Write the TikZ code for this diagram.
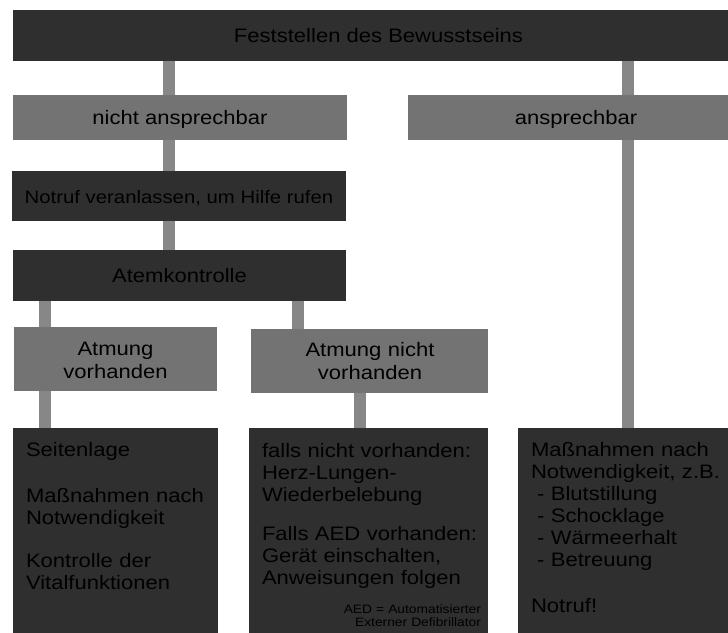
\documentclass[tikz,border=0pt]{standalone}
\usepackage{fontspec}
\setmainfont[FakeStretch=1.13]{Liberation Sans}
\definecolor{dk}{HTML}{2F2F2F}
\definecolor{md}{HTML}{737373}
\definecolor{cn}{HTML}{878787}
\begin{document}
\begin{tikzpicture}[x=1pt,y=-1pt,
  box/.style={inner sep=0pt, outer sep=0pt, text=black},
  darkbox/.style={box, fill=dk},
  graybox/.style={box, fill=md},
  one/.style={font=\fontsize{19.5}{22}\selectfont, text height=14pt, text depth=0pt},
  lbl/.style={inner sep=0pt, outer sep=0pt, text=black, font=\fontsize{19.5}{23}\selectfont, text width=230pt, align=center, anchor=base},
  btxt/.style={inner sep=0pt, outer sep=0pt, text=black, font=\fontsize{19.5}{22}\selectfont, text width=260pt, align=left, anchor=base west},
  conn/.style={draw=cn, line width=11.5pt}
]
\useasboundingbox[fill=white] (0,0) rectangle (728,632);

% boxes
\node[darkbox, one, minimum width=731pt, minimum height=51pt] (top) at (378.5,35.5) {Feststellen des Bewusstseins};
\node[graybox, one, minimum width=334pt, minimum height=45pt] (nicht) at (180,117.5) {nicht ansprechbar};
\node[graybox, one, minimum width=336pt, minimum height=45pt] (ansp) at (576,117.5) {ansprechbar};
\node[darkbox, one, font=\fontsize{18}{22}\selectfont, minimum width=334pt, minimum height=50pt] (notruf) at (179,196) {Notruf veranlassen, um Hilfe rufen};
\node[darkbox, one, minimum width=333pt, minimum height=51pt] (atem) at (179.5,275.5) {Atemkontrolle};
\node[graybox, minimum width=203pt, minimum height=64pt] (avh) at (115.5,359) {};
\node[graybox, minimum width=237pt, minimum height=64pt] (anv) at (369.5,361) {};
\node[darkbox, minimum width=205pt, minimum height=212pt] (b1) at (115.5,534) {};
\node[darkbox, minimum width=239pt, minimum height=212pt] (b2) at (368.5,534) {};
\node[darkbox, minimum width=226pt, minimum height=212pt] (b3) at (631,534) {};

% connector x positions
\coordinate (xa) at (169,0);
\coordinate (xb) at (628,0);
\coordinate (xc) at (45,0);
\coordinate (xd) at (298,0);
\coordinate (xe) at (360,0);

\draw[conn] (top.south -| xa) -- (nicht.north -| xa);
\draw[conn] (top.south -| xb) -- (ansp.north -| xb);
\draw[conn] (nicht.south -| xa) -- (notruf.north -| xa);
\draw[conn] (notruf.south -| xa) -- (atem.north -| xa);
\draw[conn] (atem.south -| xc) -- (avh.north -| xc);
\draw[conn] (atem.south -| xd) -- (anv.north -| xd);
\draw[conn] (avh.south -| xc) -- (b1.north -| xc);
\draw[conn] (anv.south -| xe) -- (b2.north -| xe);
\draw[conn] (ansp.south -| xb) -- (b3.north -| xb);

% two-line labels
\node[lbl] (avht) at (115.5,355) {Atmung\\vorhanden};
\node[lbl] (anvt) at (370,356) {Atmung nicht\\vorhanden};

% bottom texts
\node[btxt] (t1) at (26,456) {Seitenlage\\[24pt]Maßnahmen nach\\Notwendigkeit\\[21pt]Kontrolle der\\Vitalfunktionen};
\node[btxt] (t2) at (262,457) {falls nicht vorhanden:\\Herz-Lungen-\\Wiederbelebung\\[17pt]Falls AED vorhanden:\\Gerät einschalten,\\Anweisungen folgen};
\node[btxt] (t3) at (531,456) {Maßnahmen nach\\Notwendigkeit, z.B.\\\hspace*{6pt}- Blutstillung\\\hspace*{6pt}- Schocklage\\\hspace*{6pt}- Wärmeerhalt\\\hspace*{6pt}- Betreuung\\[24pt]Notruf!};
\node[inner sep=0pt, outer sep=0pt, text=black, font=\fontsize{12.2}{13.5}\selectfont, text width=150pt, align=right, anchor=base east] (aed) at (481,613) {AED = Automatisierter\\Externer Defibrillator};
\end{tikzpicture}
\end{document}
